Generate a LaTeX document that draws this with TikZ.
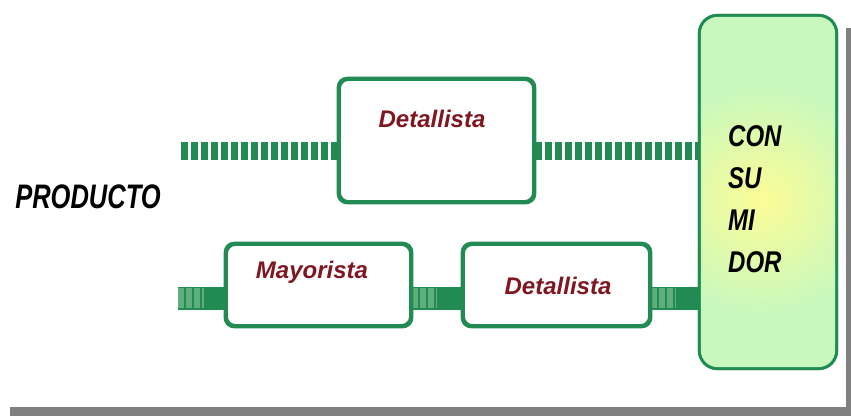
\documentclass[tikz,border=0pt]{standalone}
\usepackage{fontspec}
\setmainfont{Liberation Sans}
\usepackage{graphicx}
\usetikzlibrary{calc}
\definecolor{boxgreen}{RGB}{34,139,84}
\definecolor{lightlink}{RGB}{95,175,125}
\definecolor{wine}{RGB}{128,22,32}
\definecolor{mint}{RGB}{200,248,190}
\definecolor{pale}{RGB}{252,252,150}
\definecolor{shadowgray}{RGB}{128,128,128}
\begin{document}
\begin{tikzpicture}[x=1pt,y=-1pt,
  stagebox/.style={draw=boxgreen,line width=2.8pt,rounded corners=9pt,fill=white,inner sep=0pt},
  stagetext/.style={font=\bfseries\itshape\fontsize{24}{24}\selectfont,text=wine,inner sep=0pt},
  dashlink/.style={draw=boxgreen,line width=18pt,dash pattern=on 7pt off 3pt},
  solidlink/.style={draw=boxgreen,line width=23pt},
  stripelink/.style={draw=lightlink,line width=20pt,dash pattern=on 6pt off 2pt}]
\useasboundingbox (0,0) rectangle (851,416);

% drop shadow of the frame
\fill[shadowgray] (10,407) rectangle (851,416);
\fill[shadowgray] (846,28) rectangle (851,416);

% consumer column with a soft yellow glow
\node (cons) [fill=mint,rounded corners=18pt,inner sep=0pt,
  minimum width=137pt,minimum height=353pt] at (768,192) {};
\begin{scope}
  \clip[rounded corners=16pt] (cons.south west) rectangle (cons.north east);
  \shade[inner color=pale,outer color=mint] (762,200) circle (115);
\end{scope}
\draw[boxgreen,line width=2.8pt,rounded corners=18pt]
  (cons.south west) rectangle (cons.north east);
\node (constext) [anchor=west,inner sep=0pt] at (728,201)
  {\scalebox{0.8}[1]{\fontsize{30}{42}\selectfont\bfseries\itshape
   \begin{tabular}{@{}l@{}}CON\\SU\\MI\\DOR\end{tabular}}};

% link anchors
\coordinate (up) at (181,151);
\coordinate (lo) at (178,298);

% stage boxes
\node (det1) [stagebox,minimum width=194pt,minimum height=122pt] at (436.5,140.5) {};
\node (may)  [stagebox,minimum width=184pt,minimum height=81pt] at (318.5,285) {};
\node (det2) [stagebox,minimum width=186pt,minimum height=81pt] at (556.5,285) {};

% upper (direct) channel
\draw[dashlink] (up) -- (up -| det1.west);
\draw[dashlink] (det1.east |- up) -- (cons.west |- up);

% lower channel through the wholesaler
\draw[solidlink] (lo) -- (lo -| may.west);
\draw[solidlink] (may.east |- lo) -- (det2.west |- lo);
\draw[solidlink] (det2.east |- lo) -- (cons.west |- lo);
\draw[stripelink] (lo) -- ($(lo)!0.55!(lo -| may.west)$);
\draw[stripelink] (may.east |- lo) -- ($(may.east |- lo)!0.5!(det2.west |- lo)$);
\draw[stripelink] (det2.east |- lo) -- ($(det2.east |- lo)!0.5!(cons.west |- lo)$);

% redraw box borders over the link ends
\draw[boxgreen,line width=2.8pt,rounded corners=9pt] (det1.south west) rectangle (det1.north east);
\draw[boxgreen,line width=2.8pt,rounded corners=9pt] (may.south west) rectangle (may.north east);
\draw[boxgreen,line width=2.8pt,rounded corners=9pt] (det2.south west) rectangle (det2.north east);
\draw[boxgreen,line width=2.8pt,rounded corners=18pt] (cons.south west) rectangle (cons.north east);

% labels
\node (det1text) [stagetext] at (432,119) {Detallista};
\node (maytext)  [stagetext] at (312,272) {Mayorista};
\node (det2text) [stagetext] at (558,286) {Detallista};
\node (prod) [inner sep=0pt] at (88,197)
  {\scalebox{0.75}[1]{\fontsize{34}{34}\selectfont\bfseries\itshape PRODUCTO}};
\end{tikzpicture}
\end{document}
